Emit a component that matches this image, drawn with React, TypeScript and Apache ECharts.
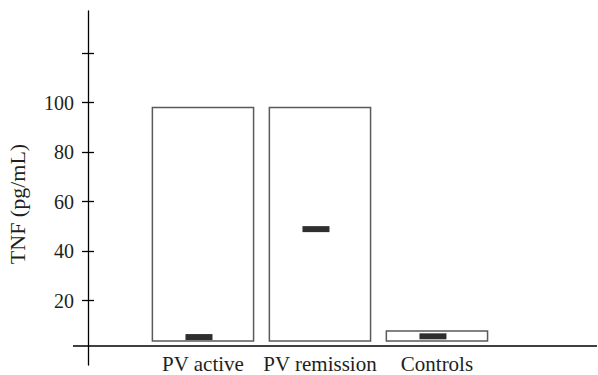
import React, { useEffect, useRef } from "react";
import * as echarts from "echarts";

const categories = ["PV active", "PV remission", "Controls"];
const boxMin = [3.7, 3.7, 3.7];
const boxMax = [98, 98, 7.8];
const medians = [5.3, 48.9, 5.6];
const yTickValues = [20, 40, 60, 80, 100, 120];
const yLabelValues = [20, 40, 60, 80, 100];
const xAxisLineValue = 1.7;

const FONT = "'Liberation Serif', 'DejaVu Serif', serif";

export default function App() {
  const ref = useRef<HTMLDivElement>(null);
  useEffect(() => {
    if (!ref.current) return;
    const chart = echarts.init(ref.current, null, { renderer: "svg" });
    const data = categories.map((_, i) => [i, boxMin[i], boxMax[i], medians[i]]);
    const yCommon = {
      type: "value",
      min: -5.98,
      max: 137,
      position: "left",
      offset: -15,
      splitLine: { show: false },
    };
    chart.setOption({
      animation: false,
      grid: {
        left: 73,
        right: 1,
        top: 11,
        bottom: 10,
        containLabel: false,
        outerBoundsMode: "none",
      },
      xAxis: {
        type: "value",
        min: -1.111,
        max: 3.368,
        axisLine: { show: false, onZero: false },
        axisTick: { show: false },
        splitLine: { show: false },
        axisLabel: {
          customValues: [0, 1, 2],
          formatter: (v: number) => categories[Math.round(v)] ?? "",
          fontSize: 21,
          fontFamily: FONT,
          color: "#231f20",
          margin: -12,
        },
      },
      yAxis: [
        {
          ...yCommon,
          name: "TNF (pg/mL)",
          nameLocation: "middle",
          nameGap: 60,
          nameTextStyle: {
            fontSize: 22,
            fontFamily: FONT,
            color: "#231f20",
            padding: [0, 32, 0, 0],
          },
          axisLine: { show: true, onZero: false, lineStyle: { color: "#000", width: 1.3 } },
          axisTick: {
            show: true,
            inside: false,
            length: 6,
            customValues: yTickValues,
            lineStyle: { color: "#000", width: 1.3 },
          },
          axisLabel: {
            customValues: yLabelValues,
            fontSize: 20,
            fontFamily: FONT,
            color: "#231f20",
            margin: 14,
          },
        },
        {
          ...yCommon,
          axisLine: { show: false, onZero: false },
          axisTick: {
            show: true,
            inside: true,
            length: 6,
            customValues: yTickValues,
            lineStyle: { color: "#000", width: 1.3 },
          },
          axisLabel: { show: false },
        },
      ],
      series: [
        {
          type: "custom",
          data,
          encode: { x: 0, y: [1, 2, 3] },
          renderItem: (params: any, api: any) => {
            const i = api.value(0);
            const lo = api.coord([i, api.value(1)]);
            const hi = api.coord([i, api.value(2)]);
            const med = api.coord([i, api.value(3)]);
            const w = api.size([0.865, 0])[0];
            const mw = 27;
            return {
              type: "group",
              children: [
                {
                  type: "rect",
                  shape: { x: lo[0] - w / 2, y: hi[1], width: w, height: lo[1] - hi[1] },
                  style: { fill: "#fff", stroke: "#5a5a5a", lineWidth: 1.5 },
                },
                {
                  type: "rect",
                  shape: { x: med[0] - 4 - mw / 2, y: med[1] - 3, width: mw, height: 6 },
                  style: { fill: "#2e2e2e" },
                },
              ],
            };
          },
          markLine: {
            silent: true,
            symbol: "none",
            label: { show: false },
            lineStyle: { color: "#000", width: 1.5, type: "solid" },
            data: [{ yAxis: xAxisLineValue }],
          },
        },
      ],
    });
    return () => chart.dispose();
  }, []);
  return (
    <div
      ref={ref}
      style={{ position: "absolute", left: 0, top: 0, width: 598, height: 375 }}
    />
  );
}
